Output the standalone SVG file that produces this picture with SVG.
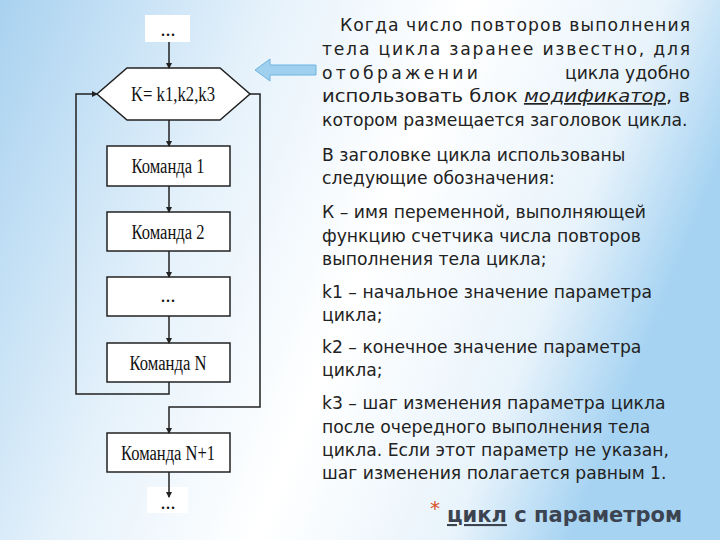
<svg xmlns="http://www.w3.org/2000/svg" width="720" height="540" viewBox="0 0 720 540">
<defs>
<linearGradient id="bg" x1="0" y1="0" x2="1" y2="0.3">
<stop offset="0" stop-color="#a9d2f0"/><stop offset="0.35" stop-color="#e6f2fb"/><stop offset="0.6" stop-color="#ffffff"/><stop offset="0.85" stop-color="#e8f3fb"/><stop offset="1" stop-color="#a6d3f2"/>
</linearGradient>
<marker id="ah" markerWidth="6" markerHeight="6" refX="5" refY="3" orient="auto" markerUnits="userSpaceOnUse"><path d="M0,0 L6,3 L0,6 z" fill="#222"/></marker>
</defs>
<style>
.b{fill:#fff;stroke:#222;stroke-width:1.5}
.l{fill:none;stroke:#222;stroke-width:1.5}
.ft{font-family:"Liberation Serif",serif;font-size:20px;fill:#111;text-anchor:middle}
.t{font-family:"DejaVu Sans","Noto Sans",sans-serif;font-size:17.2px;fill:#222}
</style>
<rect width="720" height="540" fill="url(#bg)"/>
<g id="start"><rect x="145" y="15" width="45" height="27" fill="#fff"/><text class="ft" x="168" y="36" font-size="14">...</text></g>
<g id="mod"><polygon class="b" points="127,68 220,68 250,94 220,120 127,120 97,94"/><text class="ft" x="173" y="101" textLength="84" lengthAdjust="spacingAndGlyphs">K= k1,k2,k3</text></g>
<g id="c1"><rect class="b" x="107" y="146" width="123" height="40"/><text class="ft" x="168" y="173" textLength="73" lengthAdjust="spacingAndGlyphs">Команда 1</text></g>
<g id="c2"><rect class="b" x="107" y="212" width="123" height="39"/><text class="ft" x="168" y="239" textLength="73" lengthAdjust="spacingAndGlyphs">Команда 2</text></g>
<g id="cd"><rect class="b" x="107" y="277" width="123" height="39"/><text class="ft" x="168" y="302" font-size="15">...</text></g>
<g id="cn"><rect class="b" x="107" y="343" width="123" height="39"/><text class="ft" x="168" y="370" textLength="77" lengthAdjust="spacingAndGlyphs">Команда N</text></g>
<g id="cn1"><rect class="b" x="107" y="433" width="123" height="39"/><text class="ft" x="168" y="460" textLength="94" lengthAdjust="spacingAndGlyphs">Команда N+1</text></g>
<g id="end"><rect x="147" y="487" width="41" height="26" fill="#fff"/><text class="ft" x="168" y="509" font-size="14">...</text></g>
<g id="connectors">
<line class="l" x1="169" y1="42" x2="169" y2="68" marker-end="url(#ah)"/>
<line class="l" x1="169" y1="120" x2="169" y2="146" marker-end="url(#ah)"/>
<line class="l" x1="169" y1="186" x2="169" y2="212" marker-end="url(#ah)"/>
<line class="l" x1="169" y1="251" x2="169" y2="277" marker-end="url(#ah)"/>
<line class="l" x1="169" y1="316" x2="169" y2="343" marker-end="url(#ah)"/>
<polyline class="l" points="169,382 169,394 76,394 76,94 97,94" marker-end="url(#ah)"/>
<polyline class="l" points="250,94 260,94 260,407 169,407 169,433" marker-end="url(#ah)"/>
<line class="l" x1="169" y1="472" x2="169" y2="497" marker-end="url(#ah)"/>
</g>
<polygon points="255,70 270,59 270,65 316,65 316,75 270,75 270,81" fill="#9fd0ee" stroke="#6fb3e0" stroke-width="1"/>
<g class="t">
<text x="340" y="31" textLength="350" lengthAdjust="spacing">Когда число повторов выполнения</text>
<text x="322" y="55" textLength="368" lengthAdjust="spacing">тела цикла заранее известно, для</text>
<text x="322" y="79" textLength="156" lengthAdjust="spacing">отображении</text>
<text x="565" y="79">цикла</text>
<text x="690" y="79" text-anchor="end">удобно</text>
<text x="322" y="102" textLength="368" lengthAdjust="spacingAndGlyphs">использовать блок <tspan font-style="italic" text-decoration="underline">модификатор</tspan>, в</text>
<text x="322" y="126">котором размещается заголовок цикла.</text>
<text x="322" y="161">В заголовке цикла использованы</text>
<text x="322" y="184">следующие обозначения:</text>
<text x="322" y="218">К – имя переменной, выполняющей</text>
<text x="322" y="242">функцию счетчика числа повторов</text>
<text x="322" y="265">выполнения тела цикла;</text>
<text x="322" y="298">k1 – начальное значение параметра</text>
<text x="322" y="321">цикла;</text>
<text x="322" y="353">k2 – конечное значение параметра</text>
<text x="322" y="376">цикла;</text>
<text x="322" y="409">k3 – шаг изменения параметра цикла</text>
<text x="322" y="433">после очередного выполнения тела</text>
<text x="322" y="456">цикла. Если этот параметр не указан,</text>
<text x="322" y="479">шаг изменения полагается равным 1.</text>
</g>
<text x="430" y="515" font-family="DejaVu Sans,sans-serif" font-size="20" fill="#d9501e">*</text>
<text x="447" y="522" font-family="DejaVu Sans,sans-serif" font-size="21" font-weight="bold" fill="#3b4450"><tspan text-decoration="underline">цикл</tspan> с параметром</text>
</svg>
